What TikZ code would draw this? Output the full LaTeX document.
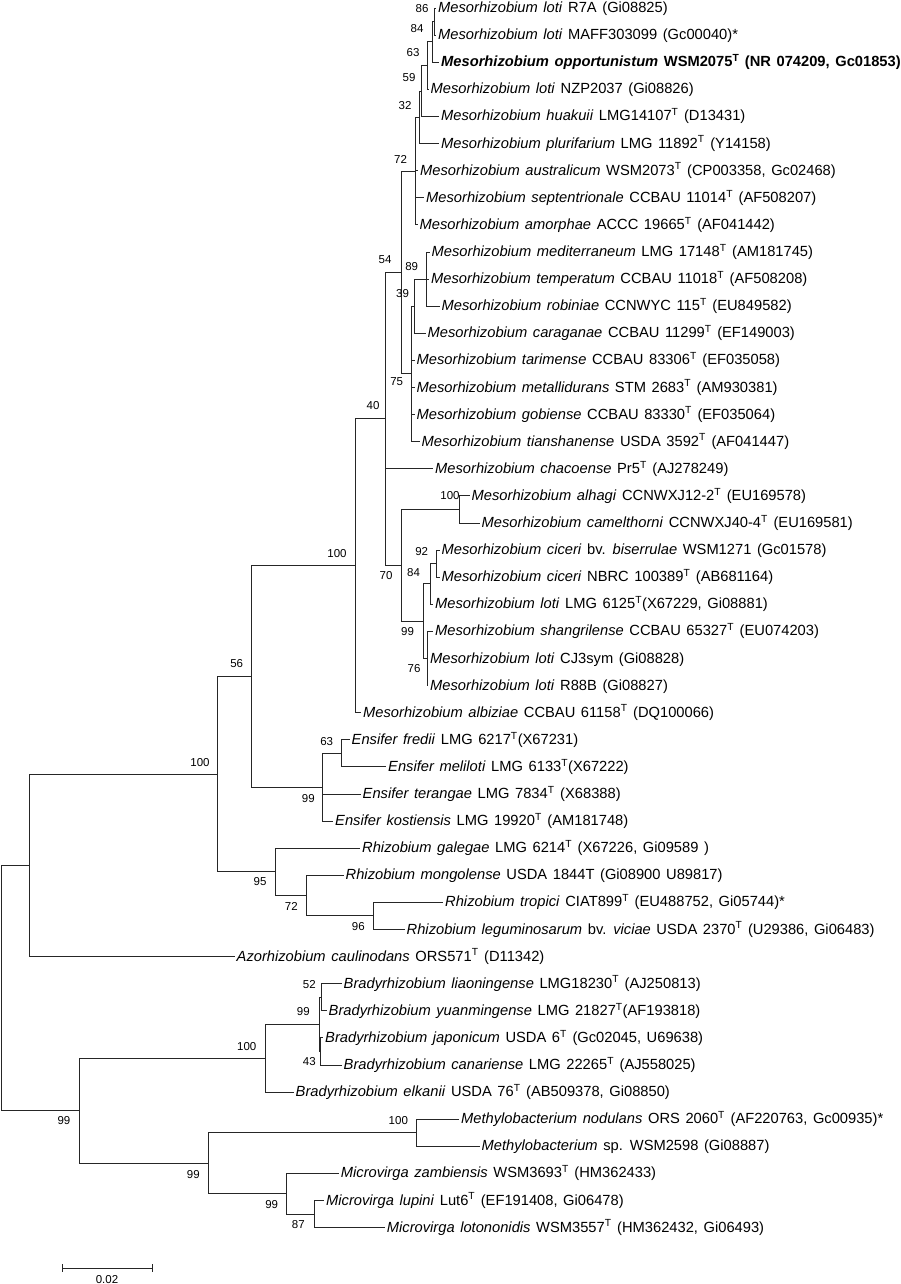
\documentclass[tikz,border=0pt]{standalone}
\usepackage{fontspec}
\setmainfont{Liberation Sans}[WordSpace=1.37]
\begin{document}
\begin{tikzpicture}[x=1pt,y=-1pt,
  br/.style={line width=0.8pt, draw=black!85},
  lab/.style={font=\fontsize{14.7}{16}\selectfont, inner sep=0pt, anchor=base west, text=black},
  bs/.style={font=\fontsize{11.5}{13}\selectfont, inner sep=0pt, text=black}]
\useasboundingbox (0,0) rectangle (901,1284);
\newcommand\myleaf[4]{\coordinate (#1) at (#2,#3);
  \node[lab] (#1t) at ([xshift=2pt,yshift=-4.6pt]#1) {#4};}
\newcommand\T{\textsuperscript{T}}
% ---------- leaves ----------
\myleaf{L0}{436}{8.0}{\textit{Mesorhizobium loti} R7A (Gi08825)}
\myleaf{L1}{436}{35.1}{\textit{Mesorhizobium loti} MAFF303099 (Gc00040)*}
\myleaf{L2}{439}{62.2}{\textbf{\textit{Mesorhizobium opportunistum} WSM2075\T\ (NR 074209, Gc01853)}}
\myleaf{L3}{428.5}{89.3}{\textit{Mesorhizobium loti} NZP2037 (Gi08826)}
\myleaf{L4}{439}{116.4}{\textit{Mesorhizobium huakuii} LMG14107\T\ (D13431)}
\myleaf{L5}{439}{143.5}{\textit{Mesorhizobium plurifarium} LMG 11892\T\ (Y14158)}
\myleaf{L6}{418}{170.6}{\textit{Mesorhizobium australicum} WSM2073\T\ (CP003358, Gc02468)}
\myleaf{L7}{424}{197.7}{\textit{Mesorhizobium septentrionale} CCBAU 11014\T\ (AF508207)}
\myleaf{L8}{417.5}{224.8}{\textit{Mesorhizobium amorphae} ACCC 19665\T\ (AF041442)}
\myleaf{L9}{429.5}{251.9}{\textit{Mesorhizobium mediterraneum} LMG 17148\T\ (AM181745)}
\myleaf{L10}{429}{279.0}{\textit{Mesorhizobium temperatum} CCBAU 11018\T\ (AF508208)}
\myleaf{L11}{439.5}{306.1}{\textit{Mesorhizobium robiniae} CCNWYC 115\T\ (EU849582)}
\myleaf{L12}{425.5}{333.2}{\textit{Mesorhizobium caraganae} CCBAU 11299\T\ (EF149003)}
\myleaf{L13}{414.5}{360.3}{\textit{Mesorhizobium tarimense} CCBAU 83306\T\ (EF035058)}
\myleaf{L14}{414.5}{387.4}{\textit{Mesorhizobium metallidurans} STM 2683\T\ (AM930381)}
\myleaf{L15}{414.5}{414.5}{\textit{Mesorhizobium gobiense} CCBAU 83330\T\ (EF035064)}
\myleaf{L16}{419.5}{441.6}{\textit{Mesorhizobium tianshanense} USDA 3592\T\ (AF041447)}
\myleaf{L17}{433}{468.7}{\textit{Mesorhizobium chacoense} Pr5\T\ (AJ278249)}
\myleaf{L18}{469.5}{495.8}{\textit{Mesorhizobium alhagi} CCNWXJ12-2\T\ (EU169578)}
\myleaf{L19}{479.5}{522.9}{\textit{Mesorhizobium camelthorni} CCNWXJ40-4\T\ (EU169581)}
\myleaf{L20}{439.5}{550.0}{\textit{Mesorhizobium ciceri} bv. \textit{biserrulae} WSM1271 (Gc01578)}
\myleaf{L21}{439.5}{577.1}{\textit{Mesorhizobium ciceri} NBRC 100389\T\ (AB681164)}
\myleaf{L22}{433}{604.2}{\textit{Mesorhizobium loti} LMG 6125\T(X67229, Gi08881)}
\myleaf{L23}{433}{631.3}{\textit{Mesorhizobium shangrilense} CCBAU 65327\T\ (EU074203)}
\myleaf{L24}{428}{658.4}{\textit{Mesorhizobium loti} CJ3sym (Gi08828)}
\myleaf{L25}{428}{685.5}{\textit{Mesorhizobium loti} R88B (Gi08827)}
\myleaf{L26}{361}{712.6}{\textit{Mesorhizobium albiziae} CCBAU 61158\T\ (DQ100066)}
\myleaf{L27}{349.5}{739.7}{\textit{Ensifer fredii} LMG 6217\T(X67231)}
\myleaf{L28}{386}{766.8}{\textit{Ensifer meliloti} LMG 6133\T(X67222)}
\myleaf{L29}{360.5}{793.9}{\textit{Ensifer terangae} LMG 7834\T\ (X68388)}
\myleaf{L30}{333}{821.0}{\textit{Ensifer kostiensis} LMG 19920\T\ (AM181748)}
\myleaf{L31}{360}{848.1}{\textit{Rhizobium galegae} LMG 6214\T\ (X67226, Gi09589 )}
\myleaf{L32}{343.5}{875.2}{\textit{Rhizobium mongolense} USDA 1844T (Gi08900 U89817)}
\myleaf{L33}{443}{902.3}{\textit{Rhizobium tropici} CIAT899\T\ (EU488752, Gi05744)*}
\myleaf{L34}{404.5}{929.4}{\textit{Rhizobium leguminosarum} bv. \textit{viciae} USDA 2370\T\ (U29386, Gi06483)}
\myleaf{L35}{234.5}{956.5}{\textit{Azorhizobium caulinodans} ORS571\T\ (D11342)}
\myleaf{L36}{341.5}{983.6}{\textit{Bradyrhizobium liaoningense} LMG18230\T\ (AJ250813)}
\myleaf{L37}{326.5}{1010.7}{\textit{Bradyrhizobium yuanmingense} LMG 21827\T(AF193818)}
\myleaf{L38}{323}{1037.8}{\textit{Bradyrhizobium japonicum} USDA 6\T\ (Gc02045, U69638)}
\myleaf{L39}{341.5}{1064.9}{\textit{Bradyrhizobium canariense} LMG 22265\T\ (AJ558025)}
\myleaf{L40}{293.5}{1092.0}{\textit{Bradyrhizobium elkanii} USDA 76\T\ (AB509378, Gi08850)}
\myleaf{L41}{459}{1119.1}{\textit{Methylobacterium nodulans} ORS 2060\T\ (AF220763, Gc00935)*}
\myleaf{L42}{479.5}{1146.2}{\textit{Methylobacterium} sp. WSM2598 (Gi08887)}
\myleaf{L43}{338.7}{1173.3}{\textit{Microvirga zambiensis} WSM3693\T\ (HM362433)}
\myleaf{L44}{324}{1200.4}{\textit{Microvirga lupini} Lut6\T\ (EF191408, Gi06478)}
\myleaf{L45}{384.7}{1227.5}{\textit{Microvirga lotononidis} WSM3557\T\ (HM362432, Gi06493)}
% ---------- internal nodes ----------
\coordinate (M86) at (434.3,21.55);
\coordinate (M84) at (432.5,41.88);
\coordinate (M63) at (427,65.59);
\coordinate (M59) at (421,90.99);
\coordinate (M32) at (419.5,117.25);
\coordinate (M72) at (415,171.03);
\coordinate (M89) at (426.7,279.0);
\coordinate (M39) at (414.5,306.1);
\coordinate (M75) at (411.7,373.85);
\coordinate (M54) at (401.7,272.44);
\coordinate (M100b) at (459.3,509.35);
\coordinate (M92) at (436.7,563.55);
\coordinate (M84b) at (430,583.88);
\coordinate (M76) at (427,658.4);
\coordinate (M99) at (423.3,621.14);
\coordinate (M70) at (401.7,565.25);
\coordinate (M40) at (385.7,418.84);
\coordinate (M0) at (355,565.72);
\coordinate (E63) at (341.7,753.25);
\coordinate (E99) at (322.7,787.13);
\coordinate (D) at (251.7,676.42);
\coordinate (Rh96) at (373.3,915.85);
\coordinate (Rh72) at (306,895.53);
\coordinate (Rh95) at (275,871.81);
\coordinate (C) at (217.7,774.12);
\coordinate (A) at (29.3,865.31);
\coordinate (Br52) at (321.7,997.15);
\coordinate (Br43) at (320.7,1051.35);
\coordinate (Br99) at (319,1024.25);
\coordinate (Br100) at (265.7,1058.13);
\coordinate (Meth) at (416.7,1132.65);
\coordinate (Mv87) at (314,1213.95);
\coordinate (Mv99) at (286.7,1193.63);
\coordinate (X99) at (208.3,1163.14);
\coordinate (B) at (79,1110.63);
\coordinate (R) at (1,987.97);
% ---------- branches ----------
\foreach \p/\c in {R/A,R/B,A/C,A/L35,C/D,C/Rh95,D/M0,D/E99,
  M0/M40,M0/L26,M40/M54,M40/L17,M40/M70,M54/M72,M54/M75,
  M72/M32,M72/L6,M72/L7,M72/L8,M32/M59,M32/L5,M59/M63,M59/L4,
  M63/M84,M63/L3,M84/M86,M84/L2,M86/L0,M86/L1,
  M75/M39,M75/L13,M75/L14,M75/L15,M75/L16,M39/M89,M39/L12,
  M89/L9,M89/L10,M89/L11,M70/M100b,M70/M99,M100b/L18,M100b/L19,
  M99/M84b,M99/M76,M84b/M92,M84b/L22,M92/L20,M92/L21,
  M76/L23,M76/L24,M76/L25,
  E99/E63,E99/L29,E99/L30,E63/L27,E63/L28,
  Rh95/L31,Rh95/Rh72,Rh72/L32,Rh72/Rh96,Rh96/L33,Rh96/L34,
  B/Br100,B/X99,Br100/Br99,Br100/L40,Br99/Br52,Br99/Br43,
  Br52/L36,Br52/L37,Br43/L38,Br43/L39,
  X99/Meth,X99/Mv99,Meth/L41,Meth/L42,Mv99/L43,Mv99/Mv87,Mv87/L44,Mv87/L45}
  {\draw[br] (\p) |- (\c);}
% ---------- bootstrap values ----------
\node[bs] (b86) at (422,9) {86};
\node[bs] (b84) at (417,29) {84};
\node[bs] (b63) at (413,53) {63};
\node[bs] (b59) at (409,78) {59};
\node[bs] (b32) at (405,105.5) {32};
\node[bs] (b72) at (400.5,159.5) {72};
\node[bs] (b54) at (385,260) {54};
\node[bs] (b89) at (411.7,266.7) {89};
\node[bs] (b39) at (402.5,293.3) {39};
\node[bs] (b75) at (396.7,382) {75};
\node[bs] (b40) at (373,405.5) {40};
\node[bs] (b100b) at (450,496) {100};
\node[bs] (b70) at (386,575.5) {70};
\node[bs] (b92) at (421.7,552) {92};
\node[bs] (b84b) at (413.5,573) {84};
\node[bs] (b99m) at (407.5,631.7) {99};
\node[bs] (b76) at (414,668.3) {76};
\node[bs] (b100m) at (337,553.5) {100};
\node[bs] (b56) at (236.7,664) {56};
\node[bs] (b100c) at (200,762.7) {100};
\node[bs] (b63e) at (326.7,741.7) {63};
\node[bs] (b99e) at (308.3,798.3) {99};
\node[bs] (b95) at (260,881.7) {95};
\node[bs] (b72r) at (291.3,906.2) {72};
\node[bs] (b96) at (358.3,926.7) {96};
\node[bs] (b52) at (309.3,984.3) {52};
\node[bs] (b99br) at (303.3,1011.7) {99};
\node[bs] (b100br) at (246.7,1046.7) {100};
\node[bs] (b43) at (309.3,1061.7) {43};
\node[bs] (b99b) at (64,1121) {99};
\node[bs] (b100me) at (398.3,1121) {100};
\node[bs] (b99x) at (193.3,1174.3) {99};
\node[bs] (b99mv) at (271.7,1205) {99};
\node[bs] (b87) at (298.3,1225) {87};
% ---------- scale bar ----------
\coordinate (s1) at (62,1268);
\coordinate (s2) at (152,1268);
\draw[br] (s1) -- (s2);
\draw[br] ([yshift=4pt]s1) -- ([yshift=-4pt]s1);
\draw[br] ([yshift=4pt]s2) -- ([yshift=-4pt]s2);
\node[bs] (sl) at (107,1280) {0.02};
\end{tikzpicture}
\end{document}
